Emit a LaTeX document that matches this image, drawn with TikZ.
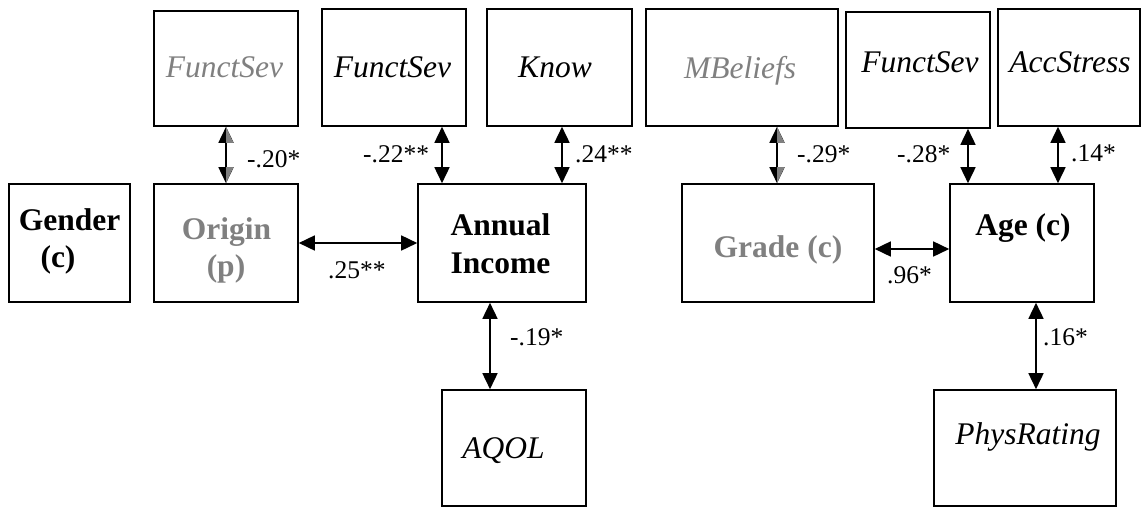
\documentclass[tikz,border=0pt]{standalone}
\usepackage{fontspec}
\setmainfont{Liberation Serif}
\usetikzlibrary{arrows.meta}
\definecolor{gtxt}{RGB}{128,128,128}
\begin{document}
\begin{tikzpicture}[x=1pt,y=-1pt,
  box/.style={draw=black, line width=1.6pt, inner sep=0pt},
  txt/.style={font=\fontsize{31.5}{37}\selectfont, anchor=base, inner sep=0pt},
  itx/.style={txt, font=\fontsize{31.5}{37}\selectfont\itshape},
  btx/.style={txt, font=\fontsize{31.5}{37}\selectfont\bfseries},
  lbl/.style={font=\fontsize{25.5}{30}\selectfont, anchor=base west, inner sep=0pt},
  arr/.style={draw=black, line width=1.6pt, {Triangle[length=16pt,width=15pt]}-{Triangle[length=16pt,width=15pt]}},
  halftip/.style={fill=gtxt, draw=none}]
\useasboundingbox (0,0) rectangle (1141,507);

% boxes
\node[box, minimum width=144pt, minimum height=115pt] (fs1) at (226,68.5) {};
\node[box, minimum width=144pt, minimum height=117pt] (fs2) at (394,67.5) {};
\node[box, minimum width=145pt, minimum height=117pt] (know) at (559.5,67.5) {};
\node[box, minimum width=192pt, minimum height=117pt] (mb) at (742,67.5) {};
\node[box, minimum width=144pt, minimum height=116pt] (fs3) at (918,70) {};
\node[box, minimum width=142pt, minimum height=117pt] (acc) at (1069,67.5) {};
\node[box, minimum width=121pt, minimum height=118pt] (gender) at (69.5,243) {};
\node[box, minimum width=144pt, minimum height=118pt] (origin) at (226,243) {};
\node[box, minimum width=168pt, minimum height=118pt] (income) at (502,243) {};
\node[box, minimum width=192pt, minimum height=118pt] (grade) at (778,243) {};
\node[box, minimum width=144pt, minimum height=118pt] (age) at (1022,243) {};
\node[box, minimum width=144pt, minimum height=116pt] (aqol) at (514,448) {};
\node[box, minimum width=182pt, minimum height=116pt] (phys) at (1025,448) {};

% box texts
\node[itx, text=gtxt] (tfs1) at (224.5,77) {FunctSev};
\node[itx] (tfs2) at (392.5,77) {FunctSev};
\node[itx] (tknow) at (555,77) {Know};
\node[itx, text=gtxt] (tmb) at (740,78) {MBeliefs};
\node[itx] (tfs3) at (920,72) {FunctSev};
\node[itx] (tacc) at (1070,72) {AccStress};
\node[btx] (tgen1) at (69.5,230) {Gender};
\node[btx] (tgen2) at (58,267) {(c)};
\node[btx, text=gtxt] (tori1) at (226.5,239) {Origin};
\node[btx, text=gtxt] (tori2) at (226,276) {(p)};
\node[btx] (tinc1) at (500.5,235) {Annual};
\node[btx] (tinc2) at (500.5,273) {Income};
\node[btx, text=gtxt] (tgrade) at (778,257) {Grade (c)};
\node[btx] (tage) at (1023,235) {Age (c)};
\node[itx] (taqol) at (503.5,458) {AQOL};
\node[itx] (tphys) at (1028,444) {PhysRating};

% connectors
\draw[arr] (fs1.south) -- (origin.north);
\draw[arr] ([xshift=48pt]fs2.south) -- ([xshift=-60pt]income.north);
\draw[arr] ([xshift=2.5pt]know.south) -- ([xshift=60pt]income.north);
\draw[arr] ([xshift=35pt]mb.south) -- ([xshift=-1pt]grade.north);
\draw[arr] ([xshift=50pt]fs3.south) -- ([xshift=-54pt]age.north);
\draw[arr] ([xshift=-11pt]acc.south) -- ([xshift=36pt]age.north);
\draw[arr] (origin.east) -- (income.west);
\draw[arr] ([yshift=-6pt]grade.east) -- ([yshift=-6pt]age.west);
\draw[arr] ([xshift=-12pt]income.south) -- ([xshift=-24pt]aqol.north);
\draw[arr] ([xshift=14pt]age.south) -- ([xshift=11pt]phys.north);

% gray right halves of the arrowheads on the two grey connectors
\fill[halftip] (fs1.south) -- ([yshift=-16pt]fs1.south) -- ([xshift=7.5pt,yshift=-16pt]fs1.south) -- cycle;
\fill[halftip] (origin.north) -- ([yshift=16pt]origin.north) -- ([xshift=7.5pt,yshift=16pt]origin.north) -- cycle;
\fill[halftip] ([xshift=35pt]mb.south) -- ([xshift=35pt,yshift=-16pt]mb.south) -- ([xshift=42.5pt,yshift=-16pt]mb.south) -- cycle;
\fill[halftip] ([xshift=-1pt]grade.north) -- ([xshift=-1pt,yshift=16pt]grade.north) -- ([xshift=6.5pt,yshift=16pt]grade.north) -- cycle;

% labels
\node[lbl] (l1) at (247,167) {-.20*};
\node[lbl] (l2) at (363,162) {-.22**};
\node[lbl] (l3) at (575,162) {.24**};
\node[lbl] (l4) at (797,162) {-.29*};
\node[lbl] (l5) at (897,162) {-.28*};
\node[lbl] (l6) at (1071,161) {.14*};
\node[lbl] (l7) at (328,278) {.25**};
\node[lbl] (l8) at (887,283) {.96*};
\node[lbl] (l9) at (510,345) {-.19*};
\node[lbl] (l10) at (1043,345) {.16*};
\end{tikzpicture}
\end{document}
